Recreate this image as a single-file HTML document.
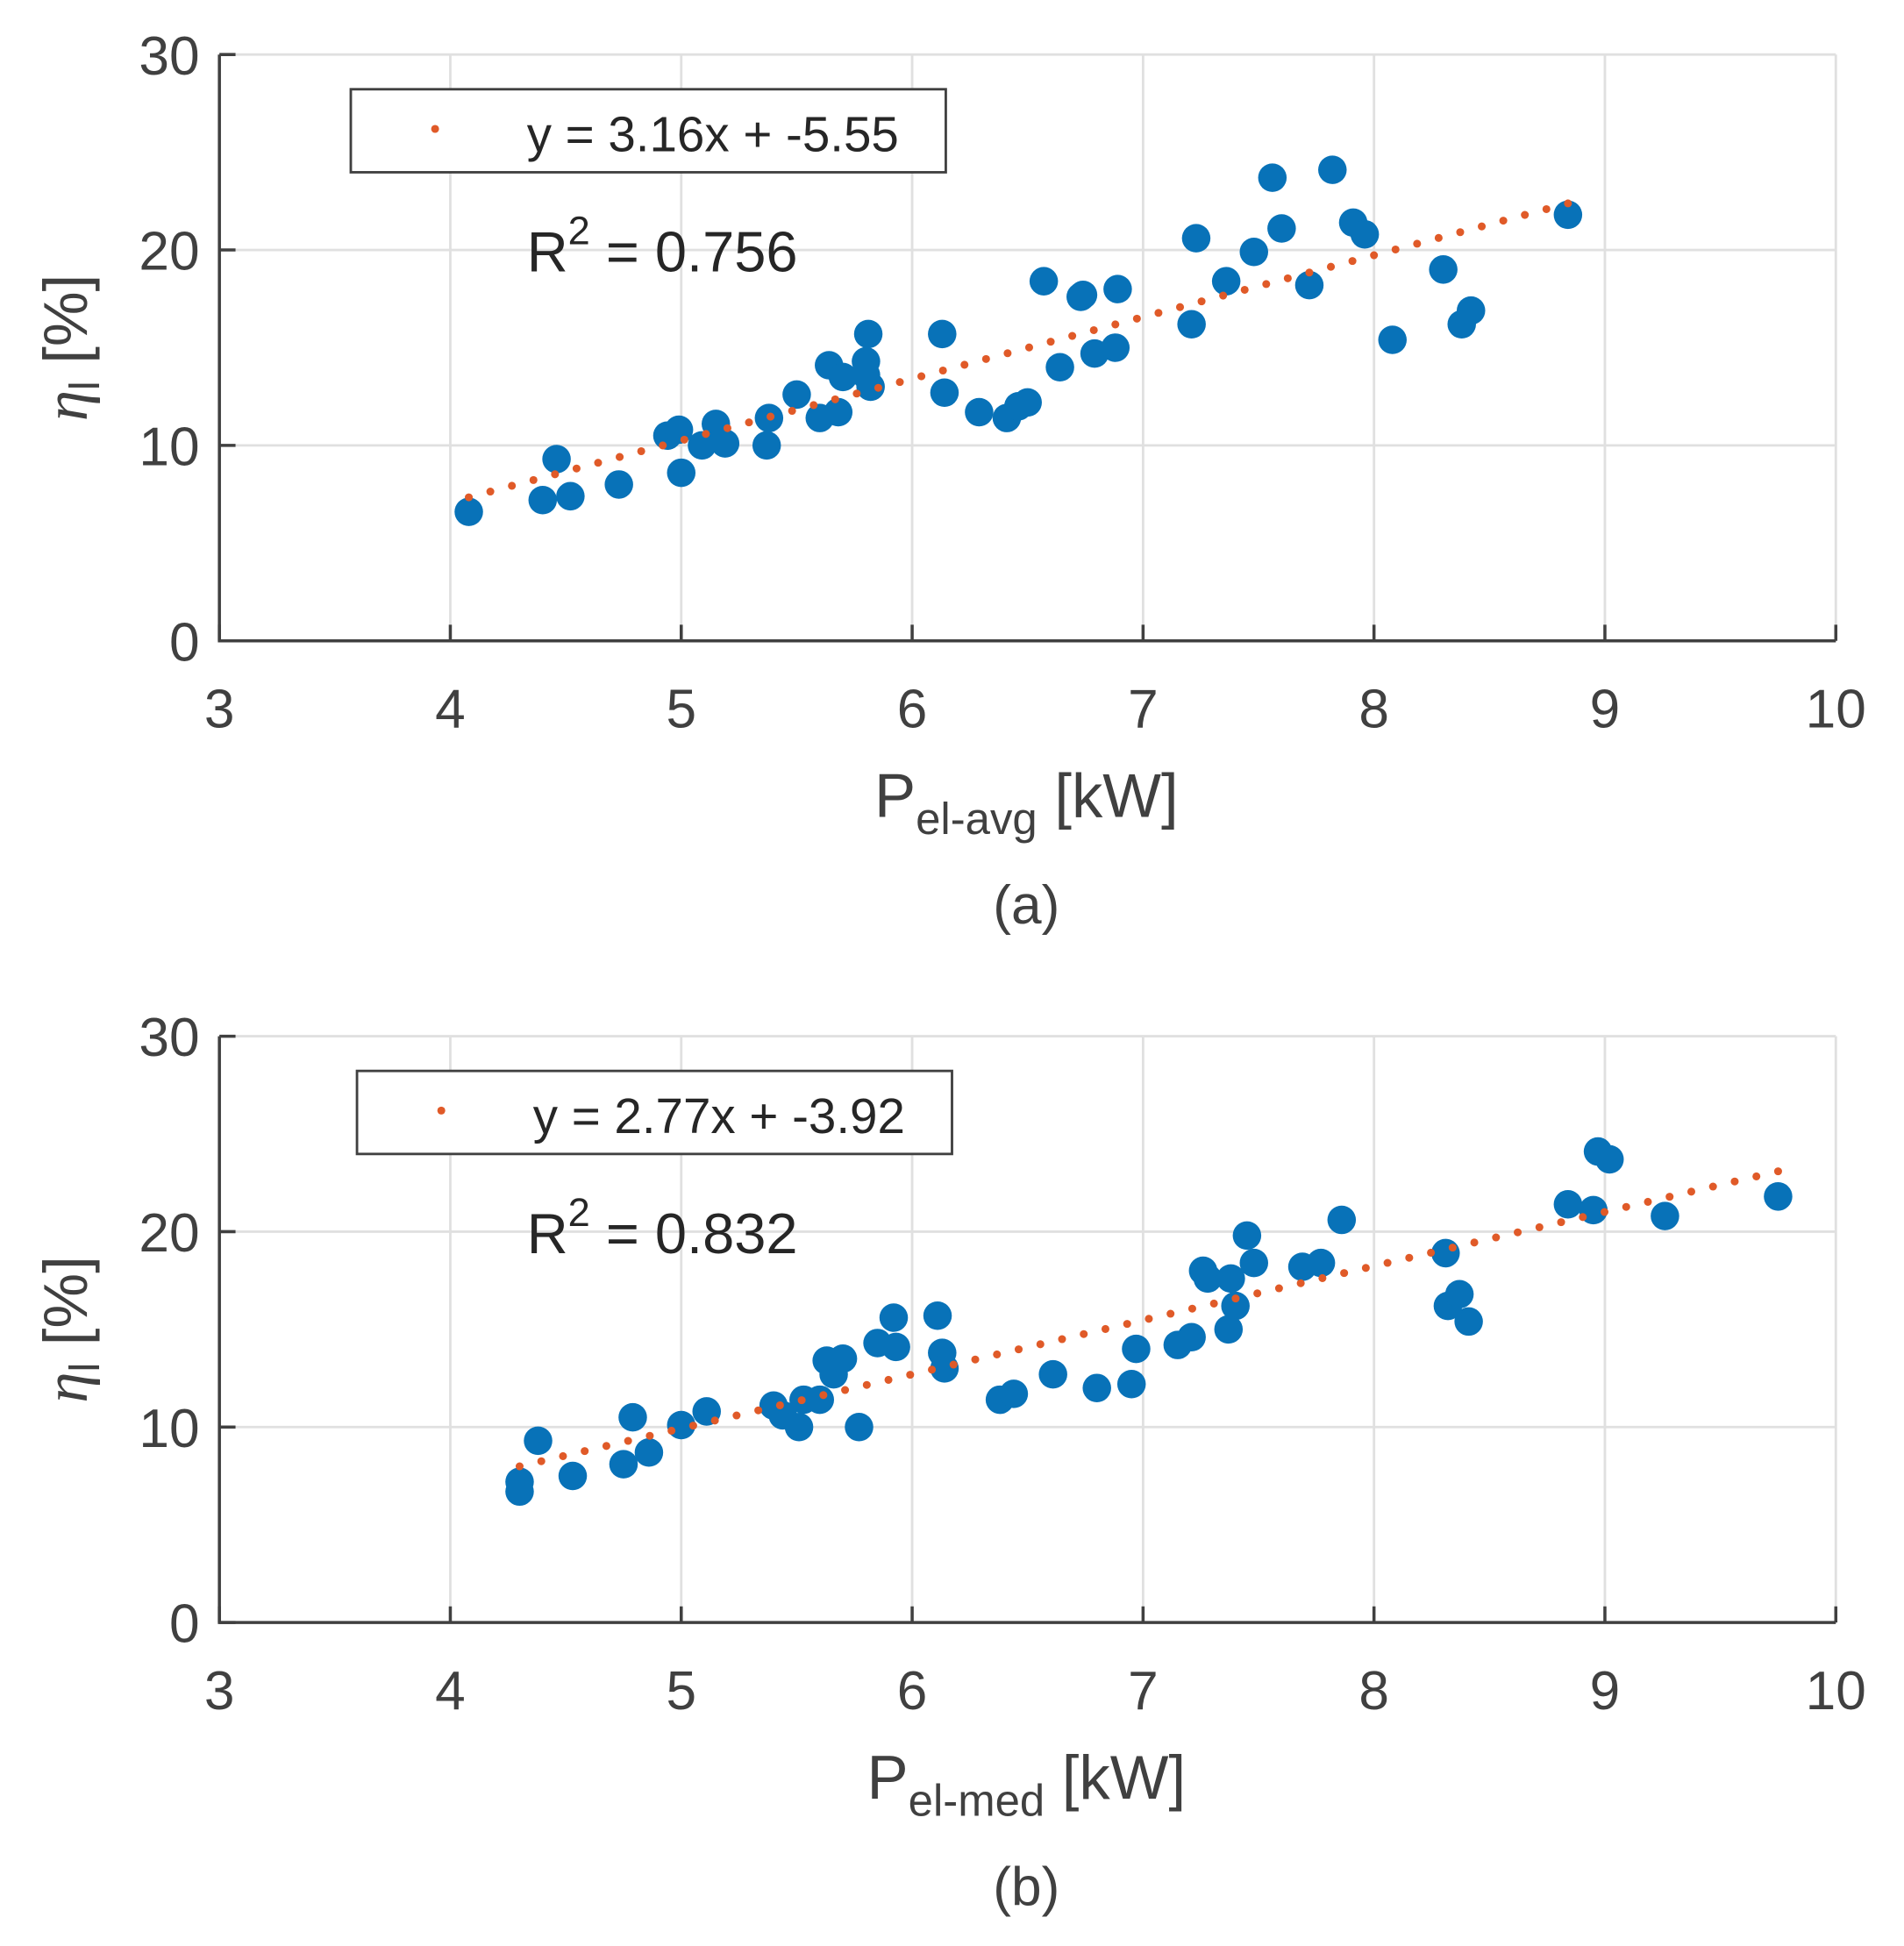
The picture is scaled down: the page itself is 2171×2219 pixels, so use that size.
<!DOCTYPE html>
<html><head><meta charset="utf-8"><style>
html,body{margin:0;padding:0;background:#fff}
svg{display:block}
text{font-family:"Liberation Sans",Arial,sans-serif}
</style></head><body>
<svg id="fig" width="2171" height="2219" viewBox="0 0 1536 1570" preserveAspectRatio="none" xmlns="http://www.w3.org/2000/svg"></svg>
<script>
// Panel (a) data
const xA = [4.08,4.40,4.46,4.52,4.73,4.94,4.99,5.00,5.09,5.15,5.19,5.37,5.38,5.50,5.60,5.64,5.68,5.70,5.80,5.80,5.81,5.82,6.13,6.14,6.29,6.41,6.46,6.50,6.57,6.64,6.73,6.74,6.79,6.88,6.89,7.21,7.23,7.36,7.48,7.56,7.60,7.72,7.82,7.91,7.96,8.08,8.30,8.38,8.42,8.84];
const yA = [6.6,7.2,9.3,7.4,8.0,10.5,10.8,8.6,10.0,11.1,10.1,10.0,11.4,12.6,11.4,14.1,11.7,13.5,14.3,13.6,15.7,13.0,15.7,12.7,11.7,11.4,12.0,12.2,18.4,14.0,17.6,17.7,14.7,15.0,18.0,16.2,20.6,18.4,19.9,23.7,21.1,18.2,24.1,21.4,20.8,15.4,19.0,16.2,16.9,21.8];
const fitA = [3.16,-5.55];
// Panel (b) data
const xB = [4.30,4.30,4.38,4.53,4.75,4.79,4.86,5.00,5.11,5.40,5.44,5.51,5.53,5.60,5.63,5.66,5.70,5.77,5.85,5.92,5.93,6.11,6.13,6.14,6.38,6.44,6.61,6.80,6.95,6.97,7.15,7.21,7.26,7.28,7.37,7.38,7.40,7.45,7.48,7.69,7.77,7.86,8.31,8.32,8.37,8.41,8.84,8.95,8.97,9.02,9.26,9.75];
const yB = [6.7,7.2,9.3,7.5,8.1,10.5,8.7,10.1,10.8,11.1,10.6,10.0,11.4,11.4,13.4,12.7,13.5,10.0,14.3,15.6,14.1,15.7,13.8,13.0,11.4,11.7,12.7,12.0,12.2,14.0,14.2,14.6,18.0,17.6,15.0,17.6,16.2,19.8,18.4,18.2,18.4,20.6,18.9,16.2,16.8,15.4,21.4,21.1,24.1,23.7,20.8,21.8];
const fitB = [2.77,-3.92];
const xTicks = [3,4,5,6,7,8,9,10];
const yTicks = [0,10,20,30];

const NS = "http://www.w3.org/2000/svg";
const svg = document.getElementById('fig');
function mk(tag, attrs, parent){const e=document.createElementNS(NS,tag);for(const k in attrs)e.setAttribute(k,attrs[k]);(parent||svg).appendChild(e);return e;}

function panel(opt){
  const L=177,R=1481,T=opt.top,B=opt.top+473;
  const xs=v=>L+(v-3)/7*(R-L);
  const ys=v=>B-v/30*(B-T);
  const g=mk('g',{});
  
  
  xTicks.forEach(t=>{const l=mk('line',{x1:xs(t),x2:xs(t),y1:T,y2:B,stroke:'#e0e0e0','stroke-width':2},g);
    });
  yTicks.forEach(t=>{const l=mk('line',{x1:L,x2:R,y1:ys(t),y2:ys(t),stroke:'#e0e0e0','stroke-width':2},g);
    });
  const ax=mk('path',{d:`M${L},${T}V${B}H${R}`,fill:'none',stroke:'#404040','stroke-width':2.5},g);
  
  xTicks.forEach(t=>{mk('line',{x1:xs(t),x2:xs(t),y1:B,y2:B-13,stroke:'#404040','stroke-width':2.5},g);
    const tx=mk('text',{x:xs(t),y:B+70,'text-anchor':'middle','font-size':44,fill:'#404040'},g);tx.textContent=t;
    });
  yTicks.forEach(t=>{mk('line',{x1:L,x2:L+13,y1:ys(t),y2:ys(t),stroke:'#404040','stroke-width':2.5},g);
    const tx=mk('text',{x:L-16,y:ys(t)+16,'text-anchor':'end','font-size':44,fill:'#404040'},g);tx.textContent=t;
    });
  opt.xd.forEach((x,i)=>{const c=mk('circle',{cx:xs(x),cy:ys(opt.yd[i]),r:11.5,fill:'#0872b8'},g);
    });
  const x0=Math.min(...opt.xd),x1=Math.max(...opt.xd);
  const n=Math.round((xs(x1)-xs(x0))/17.5);
  for(let i=0;i<=n;i++){const x=x0+(x1-x0)*i/n;
    const d=mk('circle',{cx:xs(x),cy:ys(opt.fit[0]*x+opt.fit[1]),r:3.2,fill:'#e05a28'},g);
    }
  const lg=mk('g',{},g);
  mk('rect',{x:opt.lx,y:T+28,width:480,height:67,fill:'#fff',stroke:'#404040','stroke-width':2},lg);
  mk('circle',{cx:opt.lx+68,cy:T+60,r:3.2,fill:'#e05a28'},lg);
  const lt=mk('text',{x:opt.lx+142,y:T+78,'font-size':40,fill:'#262626'},lg);lt.textContent=opt.eq;
  
  const r2=mk('text',{x:425,y:T+175,'font-size':46,fill:'#262626'},g);
  r2.innerHTML='R<tspan dy="-22" font-size="32">2</tspan><tspan dy="22"> = '+opt.r2+'</tspan>';
  
  const xl=mk('text',{x:828,y:B+142,'text-anchor':'middle','font-size':50,fill:'#404040'},g);
  xl.innerHTML='P<tspan dy="14" font-size="36">'+opt.sub+'</tspan><tspan dy="-14"> [kW]</tspan>';
  
  const yl=mk('text',{transform:`translate(70,${(T+B)/2}) rotate(-90)`,'text-anchor':'middle','font-size':50,fill:'#404040'},g);
  yl.innerHTML='<tspan font-family="Liberation Serif" font-style="italic">η</tspan><tspan dy="10" font-size="34">l</tspan><tspan dy="-10"> [%]</tspan>';
  
  const cap=mk('text',{x:828,y:B+228,'text-anchor':'middle','font-size':44,fill:'#404040'},g);cap.textContent=opt.cap;
  
}
panel({name:'panel-a',top:44,xd:xA,yd:yA,fit:fitA,lx:283,eq:'y = 3.16x + -5.55',r2:'0.756',sub:'el-avg',cap:'(a)'});
panel({name:'panel-b',top:836,xd:xB,yd:yB,fit:fitB,lx:288,eq:'y = 2.77x + -3.92',r2:'0.832',sub:'el-med',cap:'(b)'});
</script>
</body></html>
